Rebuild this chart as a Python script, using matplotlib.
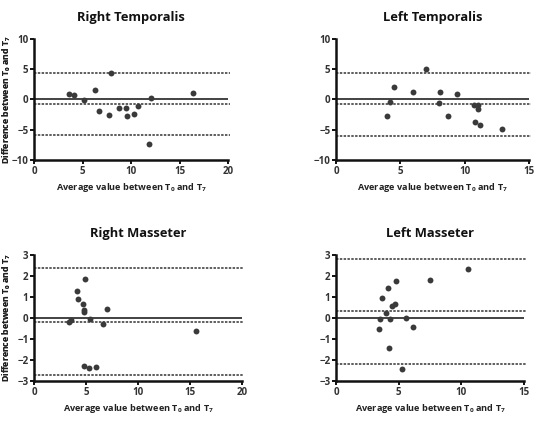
import numpy as np
import matplotlib
matplotlib.use("Agg")
import matplotlib.pyplot as plt

plt.rcParams['font.family'] = ['Open Sans', 'DejaVu Sans']
plt.rcParams['font.weight'] = 'bold'
plt.rcParams['mathtext.fontset'] = 'custom'
plt.rcParams['mathtext.rm'] = 'Open Sans:bold'
plt.rcParams['mathtext.it'] = 'Open Sans:bold'
plt.rcParams['mathtext.bf'] = 'Open Sans:bold'

# Bland-Altman data
titles = ["Right Temporalis", "Left Temporalis", "Right Masseter", "Left Masseter"]

rt_x = [3.6, 4.1, 5.2, 6.3, 6.7, 7.7, 7.9, 8.8, 9.5, 9.6, 10.3, 10.7, 11.9, 12.1, 16.4]
rt_y = [0.9, 0.7, -0.05, 1.6, -1.9, -2.6, 4.3, -1.4, -1.4, -2.7, -2.4, -1.0, -7.3, 0.2, 1.1]
rt_lines = [4.3, -0.8, -5.9]

lt_x = [4.0, 4.2, 4.5, 6.0, 7.0, 8.1, 8.0, 8.7, 9.4, 10.7, 11.0, 11.0, 10.8, 11.2, 12.9]
lt_y = [-2.7, -0.4, 2.0, 1.2, 5.0, 1.3, -0.6, -2.7, 0.9, -0.9, -0.9, -1.6, -3.7, -4.2, -4.9]
lt_lines = [4.4, -0.8, -6.0]

rm_x = [3.4, 3.55, 4.15, 4.2, 4.75, 4.85, 4.85, 4.95, 4.85, 5.3, 5.35, 6.0, 6.65, 7.05, 15.55]
rm_y = [-0.2, -0.1, 1.3, 0.9, 0.67, 0.4, 0.3, 1.86, -2.3, -2.4, -0.03, -2.35, -0.3, 0.45, -0.62]
rm_lines = [2.38, -0.2, -2.7]

lm_x = [3.45, 3.55, 3.7, 4.0, 4.15, 4.25, 4.3, 4.45, 4.7, 4.75, 5.25, 5.6, 6.15, 7.5, 10.55]
lm_y = [-0.5, -0.06, 0.97, 0.24, 1.43, -1.45, -0.05, 0.56, 0.67, 1.77, -2.42, 0.0, -0.41, 1.83, 2.34]
lm_lines = [2.82, 0.33, -2.17]

xlims = [20, 15, 20, 15]
ylims = [10, 10, 3, 3]
yticks = [[-10, -5, 0, 5, 10], [-10, -5, 0, 5, 10], [-3, -2, -1, 0, 1, 2, 3], [-3, -2, -1, 0, 1, 2, 3]]

# panel boxes in pixels (left, top, right, bottom)
boxes = [(34, 39, 228, 160), (336, 39, 529, 160), (34, 255, 242, 381), (336, 255, 524, 381)]

W, H = 544, 422
fig = plt.figure(figsize=(W / 100, H / 100), dpi=100)

data = [(rt_x, rt_y, rt_lines), (lt_x, lt_y, lt_lines), (rm_x, rm_y, rm_lines), (lm_x, lm_y, lm_lines)]

for i in range(4):
    l, t, r, b = boxes[i]
    ax = fig.add_axes([l / W, 1 - b / H, (r - l) / W, (b - t) / H])
    xs, ys, lines = data[i]
    xm, ym = xlims[i], ylims[i]
    ax.set_xlim(0, xm)
    ax.set_ylim(-ym, ym)
    ax.axhline(0, color='#222222', lw=1.2)
    for v in lines:
        ax.plot([0, xm * 1.01], [v, v], color='#333333', lw=1.1, ls=(0, (1.6, 0.9)), clip_on=False)
    ax.scatter(xs, ys, s=18, color='#3a3a3a', zorder=3, linewidths=0)
    ax.set_xticks(np.arange(0, xm + 1, 5))
    ax.set_yticks(yticks[i])
    for s in ['top', 'right']:
        ax.spines[s].set_visible(False)
    for s in ['left', 'bottom']:
        ax.spines[s].set_linewidth(1.8)
        ax.spines[s].set_color('#111111')
    ax.tick_params(direction='out', length=3, width=1.4, labelsize=7, colors='#111111',
                   labelcolor='#333333', pad=1)
    for lab in ax.get_xticklabels() + ax.get_yticklabels():
        lab.set_fontweight('bold')
    ax.set_title(titles[i], fontsize=9.3, fontweight='bold', color='#111111', pad=13)
    ax.set_xlabel(r'Average value between T$_0$ and T$_7$', fontsize=6.6, fontweight='bold',
                  color='#222222', labelpad=3)
    ax.set_ylabel(r'Difference between T$_0$ and T$_7$', fontsize=6.3, fontweight='bold',
                  color='#222222')
    ax.yaxis.set_label_coords(-(l - 13) / (r - l), 0.5)

fig.savefig('out.png', dpi=100)
